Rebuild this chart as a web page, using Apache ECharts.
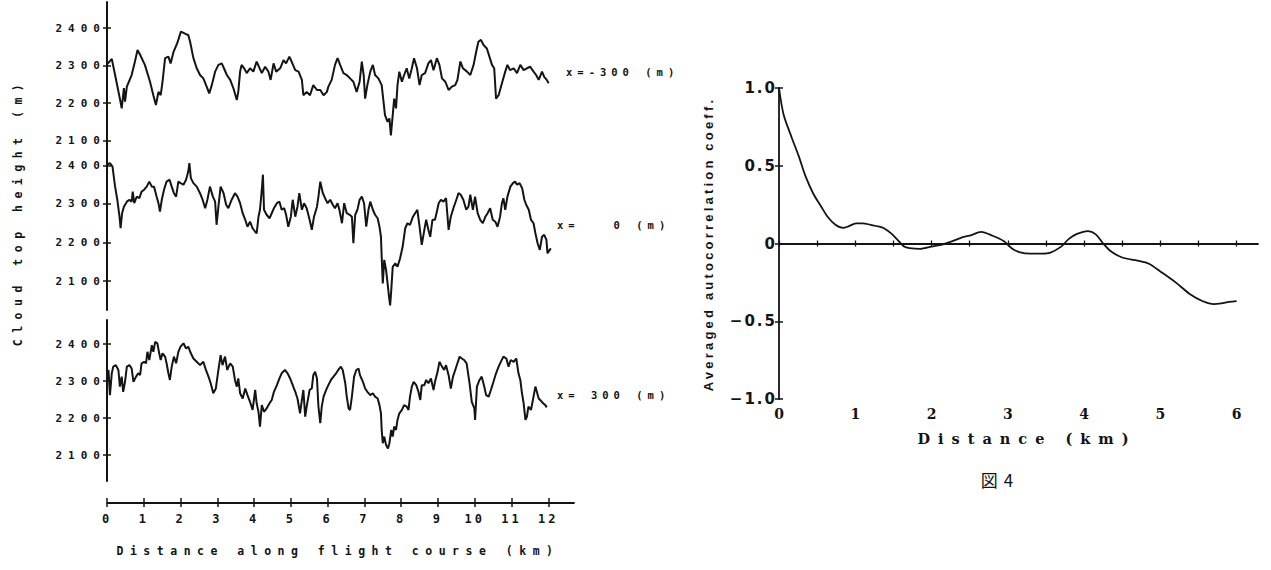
<!DOCTYPE html>
<html><head><meta charset="utf-8">
<script src="https://cdn.jsdelivr.net/npm/echarts@6.0.0/dist/echarts.min.js"></script>
<style>html,body{margin:0;padding:0;background:#fff}#c{width:1271px;height:570px}</style>
</head><body><div id="c"></div>
<script>
// ---------- DATA ----------
const kmTicks = [0,1,2,3,4,5,6,7,8,9,10,11,12];
const heightTicks = [2100,2200,2300,2400];
const lagTicks = [0,1,2,3,4,5,6];
const coeffTicks = [-1,-0.5,0,0.5,1];
const panelLabels = ['x=-300 (m)', 'x=   0 (m)', 'x= 300 (m)'];

// x = -300 m
const distA = [0.01,0.13,0.22,0.35,0.40,0.46,0.49,0.54,0.67,0.76,0.83,0.90,1.03,1.17,1.26,1.33,1.40,1.46,1.51,1.58,1.67,1.73,1.81,1.91,2.01,2.15,2.21,2.26,2.35,2.44,2.53,2.62,2.71,2.78,2.85,2.94,3.03,3.12,3.18,3.26,3.35,3.44,3.53,3.57,3.62,3.66,3.73,3.80,3.89,3.98,4.07,4.15,4.21,4.30,4.39,4.45,4.53,4.60,4.71,4.80,4.87,4.96,5.02,5.12,5.21,5.30,5.34,5.43,5.52,5.61,5.71,5.80,5.89,5.98,6.02,6.11,6.20,6.27,6.34,6.43,6.52,6.61,6.70,6.79,6.87,6.93,6.98,7.02,7.08,7.16,7.23,7.29,7.38,7.47,7.52,7.56,7.63,7.68,7.72,7.77,7.81,7.86,7.90,7.95,8.02,8.08,8.15,8.22,8.29,8.35,8.43,8.50,8.56,8.65,8.74,8.81,8.88,8.97,9.04,9.11,9.20,9.29,9.38,9.47,9.53,9.61,9.68,9.79,9.88,9.97,10.04,10.10,10.17,10.24,10.33,10.40,10.47,10.53,10.58,10.65,10.74,10.83,10.89,10.96,11.06,11.15,11.24,11.33,11.42,11.51,11.60,11.67,11.74,11.83,11.89,11.96,12.01];
const heightA = [2304,2318,2275,2212,2186,2240,2204,2244,2275,2311,2342,2329,2302,2257,2221,2195,2230,2221,2257,2320,2324,2306,2337,2360,2391,2384,2382,2364,2320,2293,2275,2266,2244,2226,2248,2284,2302,2306,2293,2275,2262,2239,2208,2230,2284,2302,2293,2280,2293,2284,2311,2293,2280,2297,2284,2262,2306,2284,2293,2315,2306,2324,2311,2288,2284,2262,2221,2230,2221,2248,2235,2235,2221,2230,2244,2262,2302,2320,2302,2280,2275,2266,2257,2230,2257,2311,2275,2212,2248,2284,2302,2275,2266,2248,2204,2168,2150,2159,2114,2168,2212,2186,2248,2284,2257,2275,2293,2266,2293,2320,2293,2248,2275,2280,2306,2315,2288,2320,2302,2266,2257,2235,2244,2248,2262,2311,2293,2284,2275,2302,2337,2364,2369,2355,2346,2324,2302,2293,2212,2221,2253,2284,2302,2288,2293,2280,2302,2288,2293,2297,2284,2275,2262,2284,2270,2262,2253];

// x = 0 m
const distB = [0.01,0.08,0.15,0.22,0.28,0.34,0.37,0.41,0.46,0.54,0.61,0.67,0.70,0.74,0.81,0.88,0.94,1.01,1.08,1.15,1.22,1.28,1.35,1.40,1.44,1.49,1.55,1.62,1.70,1.76,1.82,1.88,1.94,2.00,2.08,2.15,2.21,2.24,2.28,2.35,2.44,2.53,2.60,2.67,2.73,2.80,2.88,2.94,2.98,3.03,3.09,3.17,3.24,3.30,3.39,3.48,3.55,3.62,3.69,3.76,3.82,3.89,3.96,4.03,4.07,4.12,4.16,4.21,4.24,4.27,4.34,4.42,4.48,4.54,4.62,4.69,4.75,4.82,4.87,4.93,5.00,5.05,5.12,5.18,5.23,5.30,5.36,5.43,5.51,5.57,5.63,5.71,5.75,5.80,5.87,5.95,6.00,6.07,6.14,6.20,6.27,6.32,6.39,6.45,6.52,6.60,6.66,6.70,6.75,6.81,6.87,6.93,6.99,7.05,7.11,7.16,7.23,7.29,7.36,7.41,7.45,7.47,7.50,7.54,7.59,7.63,7.67,7.70,7.73,7.77,7.84,7.90,7.97,8.04,8.11,8.17,8.24,8.32,8.38,8.44,8.50,8.56,8.63,8.68,8.74,8.79,8.85,8.92,8.97,9.02,9.08,9.15,9.22,9.29,9.35,9.42,9.50,9.56,9.62,9.69,9.77,9.83,9.88,9.95,10.01,10.08,10.15,10.22,10.29,10.35,10.42,10.49,10.56,10.62,10.69,10.74,10.78,10.83,10.89,10.97,11.04,11.10,11.15,11.22,11.29,11.35,11.40,11.47,11.53,11.60,11.65,11.71,11.77,11.83,11.89,11.95,11.98,12.04,12.07];
const heightB = [2402,2406,2397,2345,2311,2267,2237,2276,2293,2306,2311,2306,2332,2302,2319,2315,2332,2337,2345,2358,2345,2345,2319,2302,2280,2311,2337,2358,2363,2345,2328,2319,2358,2354,2350,2363,2384,2406,2367,2354,2345,2328,2311,2289,2311,2345,2319,2306,2246,2293,2345,2328,2298,2289,2311,2328,2319,2302,2276,2259,2241,2254,2237,2228,2224,2267,2285,2337,2376,2285,2272,2263,2276,2289,2302,2306,2285,2289,2272,2241,2267,2311,2267,2293,2328,2285,2302,2289,2259,2233,2267,2293,2319,2358,2328,2311,2302,2311,2298,2289,2302,2285,2250,2302,2276,2272,2267,2198,2272,2285,2311,2319,2302,2241,2285,2306,2285,2272,2263,2241,2215,2163,2094,2155,2129,2094,2059,2037,2076,2137,2146,2137,2159,2189,2237,2250,2246,2267,2276,2285,2241,2194,2233,2259,2233,2215,2259,2259,2280,2302,2311,2306,2315,2233,2267,2289,2311,2328,2324,2311,2285,2293,2324,2285,2319,2276,2259,2250,2267,2276,2289,2259,2254,2241,2267,2302,2315,2285,2319,2345,2354,2358,2350,2354,2341,2311,2298,2285,2259,2250,2224,2198,2181,2215,2220,2207,2172,2181,2185];

// x = 300 m
const distC = [0.00,0.04,0.08,0.13,0.17,0.24,0.31,0.35,0.40,0.44,0.49,0.54,0.61,0.67,0.72,0.79,0.85,0.90,0.94,1.01,1.06,1.10,1.15,1.22,1.26,1.31,1.37,1.42,1.46,1.51,1.58,1.62,1.67,1.71,1.76,1.82,1.88,1.94,2.00,2.08,2.15,2.21,2.28,2.35,2.44,2.53,2.62,2.69,2.76,2.82,2.89,2.96,3.03,3.09,3.14,3.21,3.27,3.35,3.42,3.48,3.53,3.57,3.62,3.69,3.76,3.82,3.89,3.96,4.03,4.07,4.12,4.16,4.21,4.27,4.34,4.42,4.48,4.54,4.62,4.69,4.75,4.84,4.91,4.98,5.05,5.12,5.18,5.25,5.30,5.34,5.39,5.43,5.51,5.57,5.61,5.66,5.71,5.75,5.80,5.84,5.89,5.96,6.02,6.09,6.16,6.23,6.29,6.36,6.41,6.48,6.52,6.57,6.61,6.66,6.72,6.78,6.84,6.88,6.96,7.02,7.08,7.16,7.23,7.29,7.36,7.41,7.45,7.47,7.50,7.54,7.59,7.64,7.68,7.73,7.77,7.81,7.86,7.90,7.95,8.02,8.08,8.15,8.20,8.24,8.29,8.34,8.41,8.47,8.52,8.56,8.63,8.68,8.74,8.81,8.88,8.92,8.99,9.04,9.11,9.17,9.22,9.29,9.35,9.41,9.47,9.53,9.59,9.65,9.71,9.78,9.86,9.92,9.99,10.01,10.06,10.13,10.19,10.26,10.31,10.38,10.44,10.51,10.58,10.65,10.71,10.78,10.86,10.92,10.98,11.06,11.13,11.19,11.24,11.28,11.33,11.38,11.42,11.46,11.53,11.60,11.65,11.69,11.74,11.78,11.86,11.92,11.96];
const heightC = [2303,2330,2262,2321,2339,2343,2330,2285,2312,2271,2298,2339,2343,2334,2298,2312,2321,2316,2348,2352,2348,2379,2357,2397,2379,2406,2402,2375,2357,2375,2366,2348,2321,2303,2339,2366,2348,2379,2393,2402,2388,2393,2375,2361,2352,2343,2352,2330,2312,2294,2267,2280,2330,2370,2343,2366,2330,2348,2339,2303,2285,2307,2267,2253,2280,2262,2244,2222,2276,2240,2217,2177,2235,2217,2226,2240,2249,2271,2289,2307,2321,2330,2321,2307,2289,2271,2253,2213,2249,2276,2204,2231,2276,2280,2316,2325,2307,2231,2186,2231,2258,2276,2289,2303,2312,2321,2330,2339,2330,2294,2258,2226,2222,2258,2312,2330,2334,2316,2298,2280,2271,2262,2267,2258,2253,2235,2213,2168,2132,2150,2127,2118,2132,2168,2150,2177,2168,2195,2213,2222,2235,2231,2222,2258,2285,2298,2289,2271,2249,2289,2289,2303,2294,2307,2276,2298,2325,2352,2339,2330,2343,2316,2280,2312,2330,2348,2366,2361,2357,2348,2294,2244,2226,2195,2285,2303,2312,2285,2262,2258,2276,2298,2321,2339,2352,2366,2361,2339,2357,2352,2361,2321,2303,2271,2240,2195,2204,2231,2222,2258,2285,2271,2253,2249,2240,2235,2229];

// averaged autocorrelation
const lagKm = [0,0.06,0.16,0.26,0.35,0.45,0.55,0.64,0.74,0.84,0.91,1.01,1.10,1.20,1.30,1.37,1.47,1.56,1.64,1.71,1.85,2.00,2.15,2.30,2.40,2.50,2.65,2.80,2.95,3.05,3.15,3.30,3.45,3.55,3.70,3.80,3.90,4.05,4.15,4.25,4.35,4.50,4.70,4.85,5.00,5.20,5.40,5.55,5.70,5.80,5.90,6.00];
const coeff = [1.0,0.83,0.69,0.56,0.43,0.32,0.24,0.17,0.12,0.10,0.11,0.13,0.13,0.12,0.11,0.10,0.065,0.02,-0.02,-0.03,-0.035,-0.02,-0.005,0.02,0.04,0.05,0.075,0.05,0.015,-0.03,-0.055,-0.065,-0.065,-0.06,-0.02,0.03,0.06,0.08,0.06,0.0,-0.05,-0.09,-0.11,-0.13,-0.18,-0.25,-0.33,-0.37,-0.39,-0.385,-0.375,-0.37];

// ---------- CHART ----------
const INK = '#141414';
const zip = (a, b) => a.map((v, i) => [v, b[i]]);
const mono = 'DejaVu Sans Mono';

const panels = [
  {top: 2, height: 161, min: 2040, max: 2470, dist: distA, h: heightA},
  {top: 150, height: 160, min: 2025, max: 2440, dist: distB, h: heightB},
  {top: 320, height: 161, min: 2030, max: 2465, dist: distC, h: heightC}
];

const grid = [], xAxis = [], yAxis = [], series = [];
panels.forEach((p, i) => {
  grid.push({left: 107, width: 467, top: p.top, height: p.height});
  xAxis.push({type: 'value', gridIndex: i, min: 0, max: 12.7, show: false});
  yAxis.push({type: 'value', gridIndex: i, min: p.min, max: p.max, position: 'left',
    axisLine: {show: true, lineStyle: {color: INK, width: 2}},
    axisTick: {show: true, customValues: heightTicks, length: 4, lineStyle: {color: INK, width: 1.5}},
    axisLabel: {show: true, customValues: heightTicks, margin: 1, color: INK, fontFamily: mono, fontWeight: 'bold', fontSize: 11,
      formatter: v => String(Math.round(v))},
    splitLine: {show: false}});
  yAxis.push({type: 'value', gridIndex: i, min: p.min, max: p.max, position: 'left',
    axisLine: {show: false},
    axisTick: {show: true, inside: true, customValues: heightTicks, length: 4, lineStyle: {color: INK, width: 1.5}},
    axisLabel: {show: false}, splitLine: {show: false}});
  series.push({type: 'line', xAxisIndex: i, yAxisIndex: 2 * i, data: zip(p.dist, p.h),
    showSymbol: false, clip: false, lineStyle: {color: INK, width: 2}});
});

// bottom distance axis of left figure
grid.push({left: 107, width: 467, top: 502, height: 1});
xAxis.push({type: 'value', gridIndex: 3, min: 0, max: 12.7, position: 'bottom',
  axisLine: {show: true, onZero: false, lineStyle: {color: INK, width: 1.8}},
  axisTick: {show: true, customValues: kmTicks, length: 4, lineStyle: {color: INK, width: 1.5}},
  axisLabel: {show: true, customValues: kmTicks, margin: 10, color: INK, fontFamily: mono, fontWeight: 'bold', fontSize: 12,
    formatter: v => String(Math.round(v))},
  splitLine: {show: false}});
xAxis.push({type: 'value', gridIndex: 3, min: 0, max: 12.7, position: 'top',
  axisLine: {show: false, onZero: false},
  axisTick: {show: true, customValues: kmTicks, length: 4, lineStyle: {color: INK, width: 1.5}},
  axisLabel: {show: false}, splitLine: {show: false}});
yAxis.push({type: 'value', gridIndex: 3, show: false, min: 0, max: 1});

// right figure
const lagMinor = [0.5,1.5,2.5,3.5,4.5,5.5];
grid.push({left: 779, width: 479, top: 88, height: 311});
xAxis.push({type: 'value', gridIndex: 4, min: 0, max: 6.28, position: 'bottom',
  axisLine: {show: true, onZero: true, lineStyle: {color: INK, width: 1.8}},
  axisTick: {show: true, customValues: lagTicks.concat(lagMinor), length: 3, lineStyle: {color: INK, width: 1.3}},
  axisLabel: {show: true, customValues: lagTicks, margin: 8, color: INK, fontFamily: 'DejaVu Serif', fontWeight: 'bold', fontSize: 14,
    formatter: v => String(Math.round(v))},
  splitLine: {show: false}});
xAxis.push({type: 'value', gridIndex: 4, min: 0, max: 6.28, position: 'top',
  axisLine: {show: false, onZero: true},
  axisTick: {show: true, customValues: lagTicks.concat(lagMinor), length: 3, lineStyle: {color: INK, width: 1.3}},
  axisLabel: {show: false}, splitLine: {show: false}});
yAxis.push({type: 'value', gridIndex: 4, min: -1, max: 1, interval: 0.5, position: 'left',
  axisLine: {show: true, lineStyle: {color: INK, width: 1.8}},
  axisTick: {show: true, length: 4, lineStyle: {color: INK, width: 1.5}},
  axisLabel: {show: true, customValues: coeffTicks, margin: 2, color: INK, fontFamily: 'DejaVu Sans', fontWeight: 'bold', fontSize: 15,
    formatter: v => v === 0 ? '0' : (v < 0 ? '\u2212' + Math.abs(v).toFixed(1) : v.toFixed(1))},
  splitLine: {show: false}});
yAxis.push({type: 'value', gridIndex: 4, min: -1, max: 1, interval: 0.5, position: 'left',
  axisLine: {show: false},
  axisTick: {show: true, inside: true, length: 4, lineStyle: {color: INK, width: 1.5}},
  axisLabel: {show: false}, splitLine: {show: false}});
series.push({type: 'line', xAxisIndex: 5, yAxisIndex: 7, data: zip(lagKm, coeff),
  showSymbol: false, smooth: 0.3, clip: false, lineStyle: {color: INK, width: 1.8}});

const label = (text, x, y, font, align, rotation) => ({type: 'text', x, y, silent: true, rotation: rotation || 0,
  style: {text, font, fill: INK, align: align || 'left', verticalAlign: 'middle'}});

const graphic = [
  label('Cloud top height (m)', 18, 212, 'bold 11.5px "DejaVu Sans Mono"', 'center', Math.PI / 2),
  label('Distance along flight course (km)', 338, 551, 'bold 11.5px "DejaVu Sans Mono"', 'center'),
  label(panelLabels[0], 566, 72, 'bold 10.5px "DejaVu Sans Mono"'),
  label(panelLabels[1], 557, 225, 'bold 10.5px "DejaVu Sans Mono"'),
  label(panelLabels[2], 557, 395, 'bold 10.5px "DejaVu Sans Mono"'),
  label('Averaged autocorrelation coeff.', 708, 244, 'bold 13px "Liberation Sans"', 'center', Math.PI / 2),
  label('Distance (km)', 1027, 438, 'bold 14.5px "DejaVu Serif"', 'center'),
  label('図4', 1000, 479, '17px "Noto Sans CJK JP"', 'center')
];

const chart = echarts.init(document.getElementById('c'), null, {renderer: 'svg', width: 1271, height: 570});
chart.setOption({animation: false, backgroundColor: '#ffffff', grid, xAxis, yAxis, series, graphic,
  textStyle: {color: INK}});

// emulate the typewriter letter spacing of the original scan
const spacing = {'11px': 6, '12px': 3, '11.5px': 6.5, '10.5px': 5, '13px': 3.2, '14px': 0, '15px': 2, '14.5px': 8, '17px': 6};
function spaceOut() {
  document.querySelectorAll('#c text').forEach(t => {
    const fs = getComputedStyle(t).fontSize;
    if (spacing[fs] !== undefined) t.style.letterSpacing = spacing[fs] + 'px';
    t.style.whiteSpace = 'pre';
    t.setAttributeNS('http://www.w3.org/XML/1998/namespace', 'xml:space', 'preserve');
  });
}
spaceOut();
requestAnimationFrame(spaceOut);
setTimeout(spaceOut, 50);
chart.on('finished', spaceOut);
</script></body></html>
